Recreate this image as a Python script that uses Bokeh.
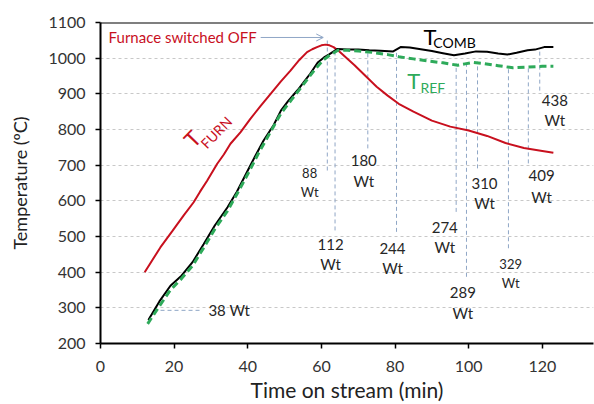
import numpy as np
from bokeh.plotting import figure
from bokeh.models import Span, Arrow, OpenHead, FixedTicker, ColumnDataSource
from bokeh.core.properties import value
from bokeh.embed import file_html
from bokeh.resources import INLINE

FONT = "Lato"

# ---- data ----
furn_t = [12, 16.3, 19.5, 22.6, 25.3, 27, 29, 31.7, 33.5, 35.3, 38, 40.7, 43.5, 46.2, 49,
          51.6, 54, 56.1, 57.5, 58.8, 60, 61.1, 62.2, 63.3, 64.5, 66, 69, 72, 75, 78, 81,
          85, 90, 95, 100, 105, 110, 115, 120, 123]
furn_T = [400, 470, 515, 559, 596, 625, 657, 704, 730, 760, 792, 830, 866, 900, 935, 965,
          995, 1017, 1025, 1031, 1036, 1038, 1036, 1031, 1022, 1008, 980, 950, 920, 895,
          872, 850, 825, 808, 797, 782, 762, 748, 740, 735]

comb_t = [13, 16, 19, 22, 25, 28, 31, 34.5, 37, 40, 42, 44.3, 47, 49, 51, 53.5, 55, 57,
          59, 60.7, 62, 64.4, 67, 70, 73, 76, 79.5, 81.5, 84, 87, 90, 93, 96, 99, 102,
          105, 108, 110.5, 113, 116, 118, 120.5, 123]
comb_T = [266, 318, 362, 390, 428, 478, 530, 582, 625, 685, 725, 769, 812, 853, 880,
          910, 930, 957, 988, 1002, 1010, 1026, 1024, 1024, 1022, 1021, 1019, 1031,
          1030, 1025, 1020, 1014, 1008, 1013, 1019, 1018, 1013, 1010, 1015, 1022, 1024,
          1031, 1031]

ref_t = [12.8, 16, 19, 22, 25, 28, 31, 34.5, 37, 40, 43, 46, 49, 52, 55, 58, 60.5, 62.5,
         64.5, 67, 70, 74, 78, 81, 85, 89, 93, 97, 99, 101, 104, 108, 112, 116, 120, 123]
ref_T = [255, 305, 350, 382, 418, 468, 520, 572, 618, 675, 735, 790, 845, 885, 925, 965,
         995, 1010, 1022, 1022, 1020, 1016, 1010, 1004, 998, 992, 987, 980, 984, 988,
         985, 979, 973, 975, 977, 977]

# Wt markers
wt_labels = ["88", "112", "180", "244", "274", "289", "310", "329", "409", "438"]
wt_line_x = [61.6, 63.7, 72.6, 80.4, 96.6, 99.4, 102.4, 110.8, 116.2, 119.3]
wt_line_bottom = [685, 517, 747, 513, 569, 387, 691, 467, 705, 909]
wt_line_top = [1058, 1020, 1022, 1015, 985, 985, 990, 975, 975, 1028]
wt_lab_x = [56.8, 62.5, 71.5, 79.3, 93.5, 98.4, 104.3, 111.4, 119.8, 123.4]
wt_num_y = [677, 478, 713, 467, 526, 344, 649, 422, 671, 882]
wt_unit_y = [624, 422, 657, 411, 470, 285, 593, 369, 610, 826]
wt_small = [True, False, False, False, False, False, False, True, False, False]

x_ticks = [0, 20, 40, 60, 80, 100, 120]
y_ticks = [200, 300, 400, 500, 600, 700, 800, 900, 1000, 1100]

# ---- figure ----
p = figure(width=594, height=404, x_range=(0, 133.9), y_range=(200, 1100),
           output_backend="svg", toolbar_location=None,
           min_border_left=100, min_border_right=1, min_border_top=22,
           min_border_bottom=61)
p.outline_line_color = None
p.background_fill_color = "white"
p.border_fill_color = "white"

p.xgrid.visible = False
p.ygrid.ticker = FixedTicker(ticks=y_ticks)
p.ygrid.grid_line_color = "#c8c8c8"
p.ygrid.grid_line_dash = "3 3"
p.ygrid.grid_line_width = 1

for ax, ticks in ((p.xaxis, x_ticks), (p.yaxis, y_ticks)):
    ax.ticker = FixedTicker(ticks=ticks)
    ax.axis_line_color = "black"
    ax.axis_line_width = 2
    ax.major_tick_line_color = "black"
    ax.major_tick_line_width = 1.5
    ax.major_tick_out = 5
    ax.major_tick_in = 0
    ax.minor_tick_line_color = None
    ax.major_label_text_font = FONT
    ax.major_label_text_font_size = "16px"
    ax.major_label_text_color = "#333333"
    ax.axis_label_text_font = FONT
    ax.axis_label_text_font_style = "normal"
    ax.axis_label_text_color = "#222222"

p.yaxis.axis_label = "Temperature (ºC)"
p.yaxis.axis_label_text_font_size = "18px"
p.xaxis.axis_label = "Time on stream (min)"
p.xaxis.axis_label_text_font_size = "21px"
p.xaxis.major_label_standoff = 12
p.yaxis.major_label_standoff = 10
p.xaxis.axis_label_standoff = 2
p.yaxis.axis_label_standoff = 14

# top border
p.add_layout(Span(location=1100, dimension="width", line_color="black", line_width=2))

# marker lines
mk = "#8fa6c6"
p.segment(x0=wt_line_x, y0=wt_line_bottom, x1=wt_line_x, y1=wt_line_top,
          line_color=mk, line_width=1, line_dash="4 3")
p.segment(x0=[14.4], y0=[293], x1=[27.2], y1=[293], line_color=mk, line_width=1,
          line_dash="4 3")

# curves
p.line(furn_t, furn_T, line_color="#c8101e", line_width=2)
p.line(comb_t, comb_T, line_color="black", line_width=2)
p.line(ref_t, ref_T, line_color="#2eaa5a", line_width=3, line_dash="7 4")

# labels of Wt
big = [not s for s in wt_small]
src_big = ColumnDataSource(dict(
    x=[x for x, b in zip(wt_lab_x, big) if b],
    yn=[y for y, b in zip(wt_num_y, big) if b],
    yu=[y for y, b in zip(wt_unit_y, big) if b],
    t=[t for t, b in zip(wt_labels, big) if b]))
src_small = ColumnDataSource(dict(
    x=[x for x, s in zip(wt_lab_x, wt_small) if s],
    yn=[y for y, s in zip(wt_num_y, wt_small) if s],
    yu=[y for y, s in zip(wt_unit_y, wt_small) if s],
    t=[t for t, s in zip(wt_labels, wt_small) if s]))
for src, fs in ((src_big, "15px"), (src_small, "13px")):
    p.text(x="x", y="yn", text="t", source=src, text_font=value(FONT),
           text_font_size=fs, text_color="#262626", text_align="center",
           text_baseline="middle")
    p.text(x="x", y="yu", text=value("Wt"), source=src, text_font=value(FONT),
           text_font_size=fs, text_color="#262626", text_align="center",
           text_baseline="middle")
p.text(x=[29.3], y=[293], text=["38 Wt"], text_font=value(FONT),
       text_font_size="15px", text_color="#262626", text_align="left",
       text_baseline="middle")

# furnace switched off
p.text(x=[2.2], y=[1058], text=["Furnace switched OFF"], text_font=value(FONT),
       text_font_size="15px", text_color="#c8101e", text_align="left",
       text_baseline="middle")
p.add_layout(Arrow(end=OpenHead(size=7, line_color=mk, line_width=1),
                   x_start=43.5, y_start=1058, x_end=60.5, y_end=1058,
                   line_color=mk, line_width=1))

# series names
p.text(x=[87.7], y=[1062], text=["T"], text_font=value(FONT), text_font_size="22px",
       text_color="black", text_align="left", text_baseline="middle")
p.text(x=[90.4], y=[1045], text=["COMB"], text_font=value(FONT), text_font_size="14px",
       text_color="black", text_align="left", text_baseline="middle")
p.text(x=[83.3], y=[937], text=["T"], text_font=value(FONT), text_font_size="22px",
       text_color="#2eaa5a", text_align="left", text_baseline="middle")
p.text(x=[86.9], y=[919], text=["REF"], text_font=value(FONT), text_font_size="14px",
       text_color="#2eaa5a", text_align="left", text_baseline="middle")
ang = np.deg2rad(46)
p.text(x=[24.9], y=[774], text=["T"], text_font=value(FONT), text_font_size="22px",
       text_color="#c8101e", text_align="center", text_baseline="middle", angle=ang)
p.text(x=[31.4], y=[792], text=["FURN"], text_font=value(FONT), text_font_size="14px",
       text_color="#c8101e", text_align="center", text_baseline="middle", angle=ang)

open("out.html", "w").write(file_html(p, INLINE))
